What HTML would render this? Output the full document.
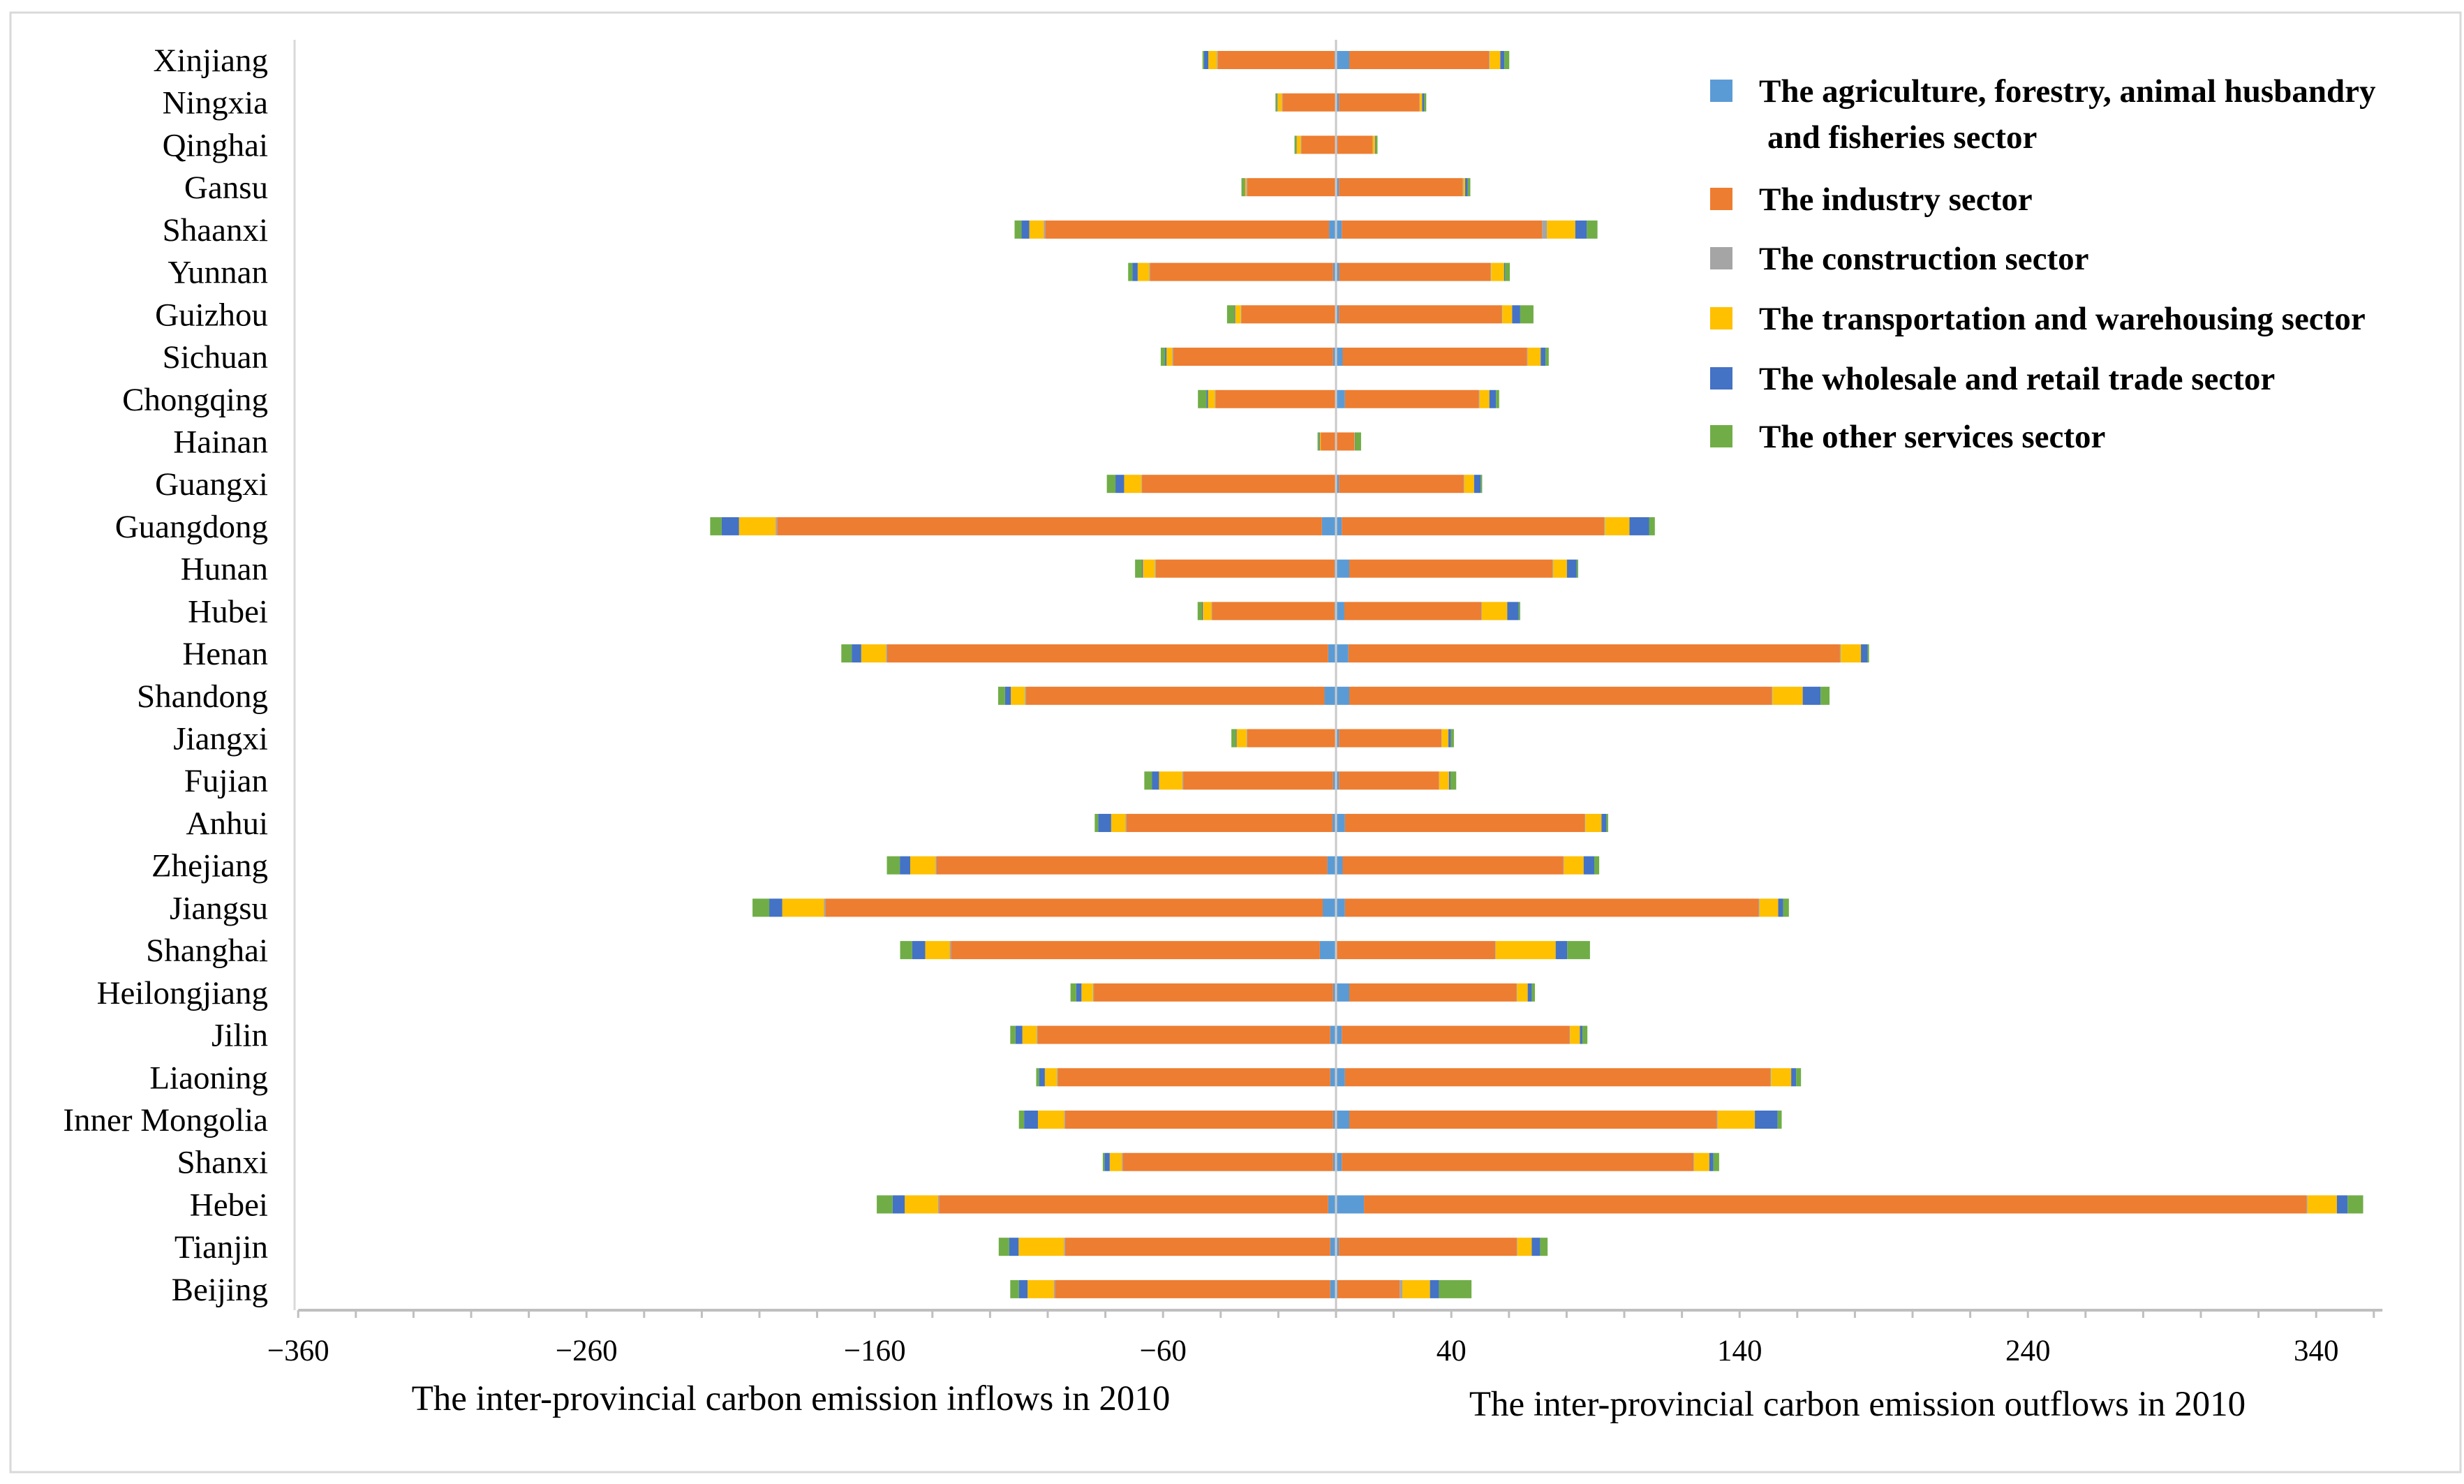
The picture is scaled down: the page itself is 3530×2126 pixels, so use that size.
<!DOCTYPE html>
<html><head><meta charset="utf-8"><style>
html,body{margin:0;padding:0;background:#fff;}
svg{display:block;font-family:"Liberation Serif",serif;}
</style></head><body>
<svg id="chart" width="3530" height="2126" viewBox="0 0 3530 2126" xmlns="http://www.w3.org/2000/svg">
<rect x="15" y="18" width="3510" height="2091" fill="#fff" stroke="#d9d9d9" stroke-width="3"/>
<g id="bars"></g>
<g id="axes"></g>
<g id="legend"></g>
<text x="1133" y="2020" font-size="51" text-anchor="middle">The inter-provincial  carbon emission  inflows  in 2010</text>
<text x="2661" y="2028" font-size="51" text-anchor="middle">The inter-provincial  carbon emission  outflows  in 2010</text>
</svg>
<script>
const provinces = ["Xinjiang","Ningxia","Qinghai","Gansu","Shaanxi","Yunnan","Guizhou","Sichuan","Chongqing","Hainan","Guangxi","Guangdong","Hunan","Hubei","Henan","Shandong","Jiangxi","Fujian","Anhui","Zhejiang","Jiangsu","Shanghai","Heilongjiang","Jilin","Liaoning","Inner Mongolia","Shanxi","Hebei","Tianjin","Beijing"];
const sectors = ["The agriculture, forestry, animal husbandry|and fisheries sector","The industry sector","The construction sector","The transportation and warehousing sector","The wholesale and retail trade sector","The other services sector"];
const sectorColors = ["#5B9BD5","#ED7D31","#A5A5A5","#FFC000","#4472C4","#70AD47"];
// inflows (plotted to the left), per province: [agri, industry, construction, transport, wholesale, other]
const inflowAgri = [0.5,0.3,0.3,0.3,2.4,1,0.3,1,0.3,0.3,0.3,4.9,0.5,0.5,2.7,4,0.3,1,1.2,3,4.6,5.6,1,2,2,1,1,2.7,2,2];
const inflowIndustry = [40.5,18.3,11.7,30.5,98.5,63.5,32.5,55.5,41.5,5,67,189,62,42.5,153,103.5,30.5,52,71.5,135.5,172.5,128,83,101.5,94.5,93,73,135,92,95.5];
const inflowConstruction = [0.3,0.2,0.2,0.3,0.5,0.3,0.2,0.3,0.2,0,0.2,0.5,0.3,0.2,0.4,0.4,0.2,0.3,0.3,0.4,0.5,0.4,0.3,0.3,0.3,0.3,0.3,0.4,0.4,0.4];
const inflowTransport = [3,1.5,1.5,0.5,5,4,2,2,2.4,0.3,6,12.7,4.2,3,8.6,4.9,3.5,8.1,5,8.8,14.5,8.5,4,5,4.2,9.1,4.2,11.5,15.7,9.1];
const inflowWholesale = [1.5,0.2,0.2,0.2,2.7,1.8,0.3,0.5,0.5,0.2,3,6,0.3,0.3,3.3,2,0.3,2.4,4.5,3.6,4.5,4.5,1.8,2.4,2,4.8,1.8,4.2,3.3,3];
const inflowOther = [0.5,0.5,0.5,1,2.4,1.5,2.5,1.5,3,0.6,3,4,2.4,1.5,3.6,2.4,1.5,2.7,1.2,4.5,5.8,4.2,2,1.8,1,1.8,0.6,5.5,3.6,3];
// outflows (plotted to the right)
const outflowAgri = [4.6,1,0.5,1,2,1.1,1,2.3,3.1,0.3,1,2,4.6,2.9,4.3,4.6,1,1,3.1,2.3,3.1,0.2,4.6,2,3.1,4.6,2,9.7,1,0.6];
const outflowIndustry = [48.5,28,12.2,43,69.5,52.5,56.5,64,46.5,6,43.3,91,70.5,47.5,170.5,146.5,35.6,34.7,83.2,76.6,143.5,55,58,79,147.5,127.5,122,327,61.7,21.5];
const outflowConstruction = [0.2,0.1,0.1,0.2,1.7,0.2,0.2,0.2,0.2,0,0.2,0.3,0.2,0.2,0.3,0.3,0.1,0.1,0.2,0.2,0.3,0.2,0.2,0.2,0.3,0.3,0.2,0.3,0.2,0.9];
const outflowTransport = [3.7,0.8,0.8,0.6,9.8,4.5,3.4,4.5,3.4,0.2,3.4,8.5,4.8,8.8,7,10.5,2.3,3.4,5.6,6.8,6.5,20.8,3.7,3.4,7,12.9,5.3,10.2,5,9.6];
const outflowWholesale = [1.4,0.7,0.2,0.9,4,0.3,2.8,1.7,2.3,0.2,2.3,6.8,3.4,4,2.3,6.2,0.9,0.5,1.7,3.7,1.7,4,1.4,0.9,1.7,7.9,1.4,3.7,2.9,3.1];
const outflowOther = [1.7,0.7,0.6,0.9,3.7,1.7,4.6,1.1,1.1,2,0.5,2,0.5,0.5,0.5,3.1,1,2,0.6,1.7,2,7.9,1.1,1.7,1.7,1.4,2,5.4,2.6,11.3];
const xTickLabels = [-360,-260,-160,-60,40,140,240,340];

const NS = "http://www.w3.org/2000/svg";
const X0 = 1914, PX = 4.13;
const xScale = v => X0 + v * PX;
const Y0 = 86, STEP = 60.72, BH = 26;
const yScale = i => Y0 + i * STEP;
const AXIS_Y = 1877, TOP = 57, YAXIS_X = 422;

function mk(tag, attrs, parent) {
  const el = document.createElementNS(NS, tag);
  for (const k in attrs) el.setAttribute(k, attrs[k]);
  parent.appendChild(el);
  return el;
}
const bars = document.getElementById("bars");
const axes = document.getElementById("axes");
const legend = document.getElementById("legend");

const inflows = [inflowAgri, inflowIndustry, inflowConstruction, inflowTransport, inflowWholesale, inflowOther];
const outflows = [outflowAgri, outflowIndustry, outflowConstruction, outflowTransport, outflowWholesale, outflowOther];

provinces.forEach((p, i) => {
  const yc = yScale(i);
  let accL = 0, accR = 0;
  for (let s = 0; s < sectors.length; s++) {
    const vl = inflows[s][i];
    const r1 = mk("rect", {x: xScale(-(accL + vl)), y: yc - BH / 2, width: vl * PX, height: BH, fill: sectorColors[s]}, bars);
    
    
    accL += vl;
    const vr = outflows[s][i];
    const r2 = mk("rect", {x: xScale(accR), y: yc - BH / 2, width: vr * PX, height: BH, fill: sectorColors[s]}, bars);
    
    
    accR += vr;
  }
  const t = mk("text", {x: 384, y: yc + 16, "font-size": 47, "text-anchor": "end", fill: "#000"}, axes);
  
  
  t.textContent = p;
});

const zl = mk("line", {x1: X0, y1: TOP, x2: X0, y2: AXIS_Y, stroke: "#c9c9c9", "stroke-width": 3}, axes);


const ya = mk("line", {x1: YAXIS_X, y1: TOP, x2: YAXIS_X, y2: AXIS_Y, stroke: "#d9d9d9", "stroke-width": 3}, axes);


const xa = mk("line", {x1: xScale(-360), y1: AXIS_Y, x2: xScale(363), y2: AXIS_Y, stroke: "#bfbfbf", "stroke-width": 4}, axes);


for (let v = -360; v <= 360; v += 20) {
  const tk = mk("line", {x1: xScale(v), y1: AXIS_Y, x2: xScale(v), y2: AXIS_Y + 11, stroke: "#bfbfbf", "stroke-width": 3}, axes);
  
  
}
xTickLabels.forEach(v => {
  const t = mk("text", {x: xScale(v), y: 1949, "font-size": 43, "text-anchor": "middle"}, axes);
  
  
  t.textContent = (v < 0 ? "\u2212" + Math.abs(v) : String(v));
});

const legendY = [131, 286, 371, 457, 543, 626];
sectors.forEach((s, k) => {
  const y = legendY[k];
  const sq = mk("rect", {x: 2450, y: y - 17, width: 32, height: 32, fill: sectorColors[k]}, legend);
  
  
  const lines = s.split("|");
  lines.forEach((ln, j) => {
    const t = mk("text", {x: j === 0 ? 2520 : 2532, y: y + 15 + j * 66, "font-size": 47, "font-weight": "bold"}, legend);
    
    
    t.textContent = ln;
  });
});
</script>
</body></html>
